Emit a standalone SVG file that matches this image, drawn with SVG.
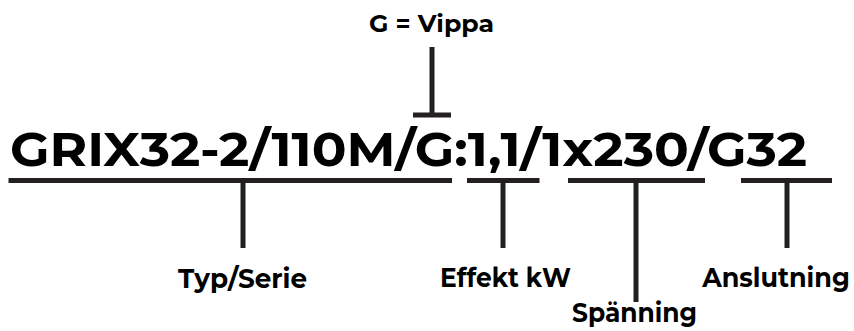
<svg xmlns="http://www.w3.org/2000/svg" width="854" height="331" viewBox="0 0 854 331">
<style>
.code{font-family:"Montserrat","Liberation Sans",Arial,sans-serif;font-weight:bold;font-size:48px;fill:#000}
.lbl{font-family:"Montserrat","Liberation Sans",Arial,sans-serif;font-weight:bold;font-size:28px;fill:#000}
.top{font-family:"Montserrat","Liberation Sans",Arial,sans-serif;font-weight:bold;font-size:24px;fill:#000}
.ln{stroke:#231f20;stroke-width:5;fill:none}
</style>
<rect width="854" height="331" fill="#fff"/>
<g id="code">
<text class="code" x="10" y="166" textLength="797" lengthAdjust="spacingAndGlyphs">GRIX32-2/110M/G:1,1/1x230/G32</text>
</g>
<g id="vippa">
<text class="top" x="369" y="32" textLength="125" lengthAdjust="spacingAndGlyphs">G = Vippa</text>
</g>
<g id="typ-serie">
<text class="lbl" x="178" y="288" textLength="129" lengthAdjust="spacingAndGlyphs">Typ/Serie</text>
</g>
<g id="effekt">
<text class="lbl" x="440" y="287" textLength="131" lengthAdjust="spacingAndGlyphs">Effekt kW</text>
</g>
<g id="spanning">
<text class="lbl" x="572" y="322" textLength="125" lengthAdjust="spacingAndGlyphs">Spänning</text>
</g>
<g id="anslutning">
<text class="lbl" x="776" y="287" text-anchor="middle" transform="translate(776 0) scale(0.91 1) translate(-776 0)">Anslutning</text>
</g>
<g id="connectors">
<line class="ln" x1="432" y1="47" x2="432" y2="115"/>
<line class="ln" x1="413" y1="115" x2="451" y2="115"/>
<line class="ln" x1="8.5" y1="180.5" x2="452" y2="180.5"/>
<line class="ln" x1="243" y1="180.5" x2="243" y2="248"/>
<line class="ln" x1="467" y1="180.5" x2="539.5" y2="180.5"/>
<line class="ln" x1="503" y1="180.5" x2="503" y2="248"/>
<line class="ln" x1="568" y1="180.5" x2="705" y2="180.5"/>
<line class="ln" x1="636" y1="180.5" x2="636" y2="302"/>
<line class="ln" x1="741" y1="180.5" x2="832" y2="180.5"/>
<line class="ln" x1="787" y1="180.5" x2="787" y2="248"/>
</g>
</svg>
